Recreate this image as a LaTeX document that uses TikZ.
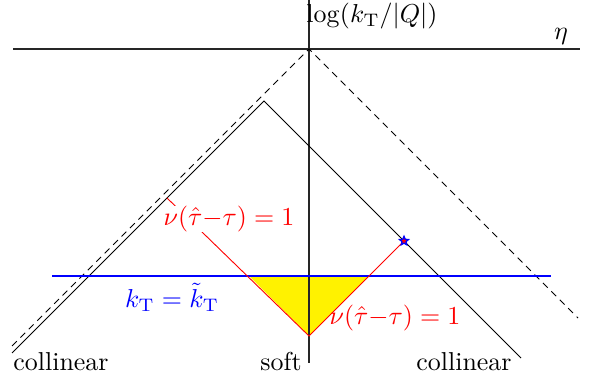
\documentclass[tikz,border=0pt]{standalone}
\usetikzlibrary{shapes.geometric}
\begin{document}
\begin{tikzpicture}[x=0.01357cm,y=-0.01357cm,
  axis/.style={draw=black!85,line width=0.45pt},
  border/.style={draw=black,line width=0.4pt},
  dashborder/.style={draw=black,line width=0.4pt,dash pattern=on 2.6pt off 2pt},
  redline/.style={draw=red,line width=0.35pt},
  blueline/.style={draw=blue,line width=0.4pt},
  lbl/.style={inner sep=1pt}]
\useasboundingbox (0,0) rectangle (596,382);
% coordinates
\coordinate (O) at (309,49);
\coordinate (vtop) at (309,0);
\coordinate (vbot) at (309,363);
\coordinate (hl) at (13,49);
\coordinate (hr) at (580,49);
\coordinate (dl) at (12,346);
\coordinate (dr) at (578,318);
\coordinate (A) at (264,101);
\coordinate (sl) at (12,353);
\coordinate (sr) at (521,358);
\coordinate (R0) at (167,198);
\coordinate (Rv) at (309,336);
\coordinate (S) at (404,241);
\coordinate (bl) at (52,276);
\coordinate (br) at (551,276);
\coordinate (Y1) at (249,276);
\coordinate (Y2) at (369,276);
% yellow region
\fill[yellow] (Y1) -- (Rv) -- (Y2) -- cycle;
% axes
\draw[axis] (vtop) -- (vbot);
\draw[axis] (hl) -- (hr);
% dashed borders
\draw[dashborder] (dl) -- (O) -- (dr);
% solid triangle
\draw[border] (sl) -- (A) -- (sr);
% blue line
\draw[blueline] (bl) -- (br);
% red lines
\draw[redline] (R0) -- (Rv) -- (S);
% star
\node[star,star points=5,star point ratio=2.2,draw=blue,fill=red,line width=0.5pt,minimum size=3.6pt,inner sep=0pt] (star) at (S) {};
% labels
\node[lbl] (ylab) at (372,16) {$\log(k_{\mathrm{T}}/|Q|)$};
\node[lbl] (eta) at (561,36) {$\eta$};
\node[inner sep=0.2pt,fill=white,text=red] (nu1) at (229,219) {$\nu(\hat\tau{-}\tau)=1$};
\node[lbl,text=red] (nu2) at (395,318) {$\nu(\hat\tau{-}\tau)=1$};
\node[lbl,text=blue] (kt) at (172,297) {$k_{\mathrm{T}}=\tilde k_{\mathrm{T}}$};
\node[lbl] (col1) at (61,362) {collinear};
\node[lbl] (soft) at (281,362) {soft};
\node[lbl] (col2) at (464,362) {collinear};
\end{tikzpicture}
\end{document}
